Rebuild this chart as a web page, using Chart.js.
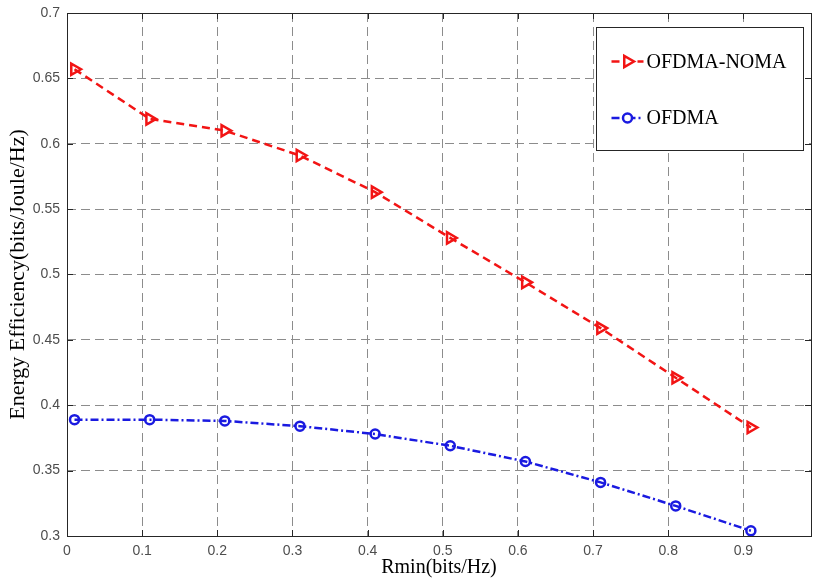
<!DOCTYPE html>
<html>
<head>
<meta charset="utf-8">
<script src="https://cdn.jsdelivr.net/npm/chart.js@4.4.1/dist/chart.umd.min.js"></script>
<style>
  html, body { margin: 0; padding: 0; background: #fff; }
</style>
</head>
<body>
<canvas id="chart" width="814" height="585"></canvas>
<script>
// values
const rmin = [0.01, 0.11, 0.21, 0.31, 0.41, 0.51, 0.61, 0.71, 0.81, 0.91];
const eeNoma = [0.657, 0.619, 0.610, 0.591, 0.563, 0.528, 0.494, 0.459, 0.421, 0.383];
const eeOfdma = [0.389, 0.389, 0.388, 0.384, 0.378, 0.369, 0.357, 0.341, 0.323, 0.304];

const xTicks = [0, 0.1, 0.2, 0.3, 0.4, 0.5, 0.6, 0.7, 0.8, 0.9];
const xLabels = ["0", "0.1", "0.2", "0.3", "0.4", "0.5", "0.6", "0.7", "0.8", "0.9"];
const yTicks = [0.3, 0.35, 0.4, 0.45, 0.5, 0.55, 0.6, 0.65, 0.7];
const yLabels = ["0.3", "0.35", "0.4", "0.45", "0.5", "0.55", "0.6", "0.65", "0.7"];

const seriesNames = ["OFDMA-NOMA", "OFDMA"];

const serif = "'Liberation Serif', 'Times New Roman', serif";
const sans = "'Liberation Sans', Arial, sans-serif";

// matlab style box with inward tick marks
const boxPlugin = {
    id: "box",
    beforeDatasetsDraw(chart) {
        const { ctx, chartArea: a, scales } = chart;
        ctx.save();
        ctx.strokeStyle = "#262626";
        ctx.lineWidth = 1;
        ctx.setLineDash([]);
        ctx.beginPath();
        xTicks.forEach((v) => {
            const px = Math.round(scales.x.getPixelForValue(v)) + 0.5;
            ctx.moveTo(px, a.bottom); ctx.lineTo(px, a.bottom - 6);
            ctx.moveTo(px, a.top); ctx.lineTo(px, a.top + 6);
        });
        yTicks.forEach((v) => {
            const py = Math.round(scales.y.getPixelForValue(v)) + 0.5;
            ctx.moveTo(a.left, py); ctx.lineTo(a.left + 6, py);
            ctx.moveTo(a.right, py); ctx.lineTo(a.right - 6, py);
        });
        ctx.stroke();
        ctx.strokeRect(Math.round(a.left) + 0.5, Math.round(a.top) + 0.5,
            Math.round(a.width), Math.round(a.height));
        ctx.restore();
    },
};

// legend box in the upper right corner
const legendPlugin = {
    id: "boxLegend",
    afterDraw(chart) {
        const { ctx, chartArea: a } = chart;
        const w = 207, h = 123;
        const x0 = Math.round(a.right - 8 - w) + 0.5;
        const y0 = Math.round(a.top + 14) + 0.5;
        ctx.save();
        ctx.fillStyle = "#fff";
        ctx.fillRect(x0, y0, w, h);
        ctx.strokeStyle = "#262626";
        ctx.lineWidth = 1;
        ctx.strokeRect(x0, y0, w, h);
        chart.data.datasets.forEach((ds, i) => {
            const y = y0 + 34 + i * 56.5;
            ctx.strokeStyle = ds.borderColor;
            ctx.lineWidth = ds.borderWidth;
            ctx.setLineDash(ds.borderDash);
            ctx.beginPath();
            ctx.moveTo(x0 + 15, y);
            ctx.lineTo(x0 + 47, y);
            ctx.stroke();
            ctx.setLineDash([]);
            ctx.fillStyle = "#fff";
            ctx.lineWidth = ds.pointBorderWidth;
            Chart.helpers.drawPoint(ctx, {
                pointStyle: ds.pointStyle,
                rotation: ds.pointRotation,
                radius: ds.pointRadius,
                borderWidth: ds.pointBorderWidth,
            }, x0 + 31, y);
            ctx.fillStyle = "#000";
            ctx.font = "20px " + serif;
            ctx.textBaseline = "middle";
            ctx.textAlign = "left";
            ctx.fillText(ds.label, x0 + 50, y + 1);
        });
        ctx.restore();
    },
};

const ctx = document.getElementById("chart").getContext("2d");

new Chart(ctx, {
    type: "line",
    data: {
        datasets: [
            {
                label: seriesNames[0],
                data: rmin.map((x, i) => ({ x: x, y: eeNoma[i] })),
                borderColor: "#f21414",
                borderWidth: 2.5,
                borderDash: [8, 5],
                pointStyle: "triangle",
                pointRotation: 90,
                pointRadius: 6.5,
                pointBorderWidth: 2.5,
                pointBackgroundColor: "rgba(255,255,255,0)",
                pointBorderColor: "#f21414",
                fill: false,
                tension: 0,
            },
            {
                label: seriesNames[1],
                data: rmin.map((x, i) => ({ x: x, y: eeOfdma[i] })),
                borderColor: "#1a1ae0",
                borderWidth: 2.5,
                borderDash: [8, 3, 2, 3],
                pointStyle: "circle",
                pointRadius: 4.5,
                pointBorderWidth: 2.5,
                pointBackgroundColor: "rgba(255,255,255,0)",
                pointBorderColor: "#1a1ae0",
                fill: false,
                tension: 0,
            },
        ],
    },
    options: {
        responsive: false,
        animation: false,
        layout: { autoPadding: false, padding: { top: 13, right: 3, left: 0, bottom: 0 } },
        plugins: {
            legend: { display: false },
            tooltip: { enabled: false },
        },
        scales: {
            x: {
                type: "linear",
                min: 0,
                max: 0.99,
                afterBuildTicks: (s) => { s.ticks = xTicks.map((v) => ({ value: v })); },
                afterFit: (s) => {
                    s.height = 49;
                    s.paddingLeft = 0;
                    s.paddingRight = 0;
                },
                ticks: {
                    autoSkip: false,
                    maxRotation: 0,
                    padding: 7,
                    color: "#4d4d4d",
                    font: { family: sans, size: 14 },
                    callback: (v, i) => xLabels[i],
                },
                grid: { color: "#8c8c8c", lineWidth: 1, drawTicks: false },
                border: { display: false, dash: [9, 5] },
                title: {
                    display: true,
                    text: "Rmin(bits/Hz)",
                    color: "#000",
                    font: { family: serif, size: 20 },
                    padding: { top: 0, bottom: 5 },
                },
            },
            y: {
                type: "linear",
                min: 0.3,
                max: 0.7,
                afterBuildTicks: (s) => { s.ticks = yTicks.map((v) => ({ value: v })); },
                afterFit: (s) => {
                    s.width = 67;
                    s.paddingTop = 0;
                    s.paddingBottom = 0;
                },
                ticks: {
                    autoSkip: false,
                    padding: 7,
                    color: "#4d4d4d",
                    font: { family: sans, size: 14 },
                    callback: (v, i) => yLabels[i],
                },
                grid: { color: "#8c8c8c", lineWidth: 1, drawTicks: false },
                border: { display: false, dash: [9, 5] },
                title: {
                    display: true,
                    text: "Energy Efficiency(bits/Joule/Hz)",
                    color: "#000",
                    font: { family: serif, size: 22 },
                    padding: { top: 5, bottom: 0 },
                },
            },
        },
    },
    plugins: [boxPlugin, legendPlugin],
});
</script>
</body>
</html>
